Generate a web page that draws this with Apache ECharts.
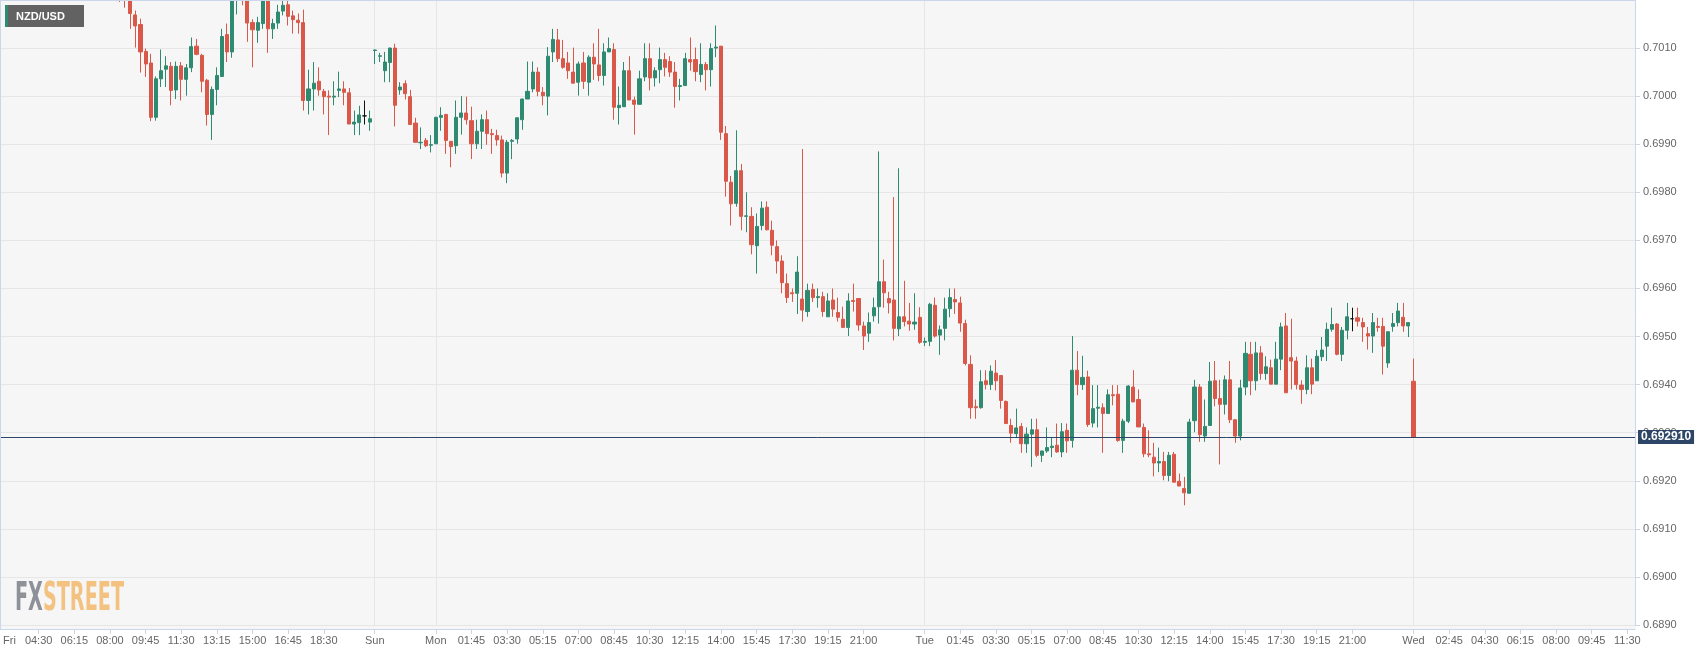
<!DOCTYPE html>
<html>
<head>
<meta charset="utf-8">
<script src="https://cdn.jsdelivr.net/npm/echarts@6/dist/echarts.min.js"></script>
<style>
html,body{margin:0;padding:0;background:#fff;}
#chart{width:1707px;height:655px;}
</style>
</head>
<body>
<div id="chart"></div>
<script>
// ---- DATA ----
const symbolName = 'NZD/USD';

// trading sessions shown on the axis (15-minute bars): [day, first bar, last bar]
const sessions = [
  ['Fri', '02:45', '20:45'],
  ['Sun', '21:00', '23:45'],
  ['Mon', '00:00', '23:45'],
  ['Tue', '00:00', '23:45'],
  ['Wed', '00:00', '10:45']
];

// x-axis tick labels: [bar, label text]
const tickLabels = [
  ['Fri 02:45', 'Fri'], ['Fri 04:30', '04:30'], ['Fri 06:15', '06:15'], ['Fri 08:00', '08:00'],
  ['Fri 09:45', '09:45'], ['Fri 11:30', '11:30'], ['Fri 13:15', '13:15'], ['Fri 15:00', '15:00'],
  ['Fri 16:45', '16:45'], ['Fri 18:30', '18:30'],
  ['Sun 21:00', 'Sun'],
  ['Mon 00:00', 'Mon'], ['Mon 01:45', '01:45'], ['Mon 03:30', '03:30'], ['Mon 05:15', '05:15'],
  ['Mon 07:00', '07:00'], ['Mon 08:45', '08:45'], ['Mon 10:30', '10:30'], ['Mon 12:15', '12:15'],
  ['Mon 14:00', '14:00'], ['Mon 15:45', '15:45'], ['Mon 17:30', '17:30'], ['Mon 19:15', '19:15'],
  ['Mon 21:00', '21:00'],
  ['Tue 00:00', 'Tue'], ['Tue 01:45', '01:45'], ['Tue 03:30', '03:30'], ['Tue 05:15', '05:15'],
  ['Tue 07:00', '07:00'], ['Tue 08:45', '08:45'], ['Tue 10:30', '10:30'], ['Tue 12:15', '12:15'],
  ['Tue 14:00', '14:00'], ['Tue 15:45', '15:45'], ['Tue 17:30', '17:30'], ['Tue 19:15', '19:15'],
  ['Tue 21:00', '21:00'],
  ['Wed 00:00', 'Wed'], ['Wed 01:45', '02:45'], ['Wed 03:30', '04:30'], ['Wed 05:15', '06:15'],
  ['Wed 07:00', '08:00'], ['Wed 08:45', '09:45'], ['Wed 10:30', '11:30']
];

// first bar of the OHLC list below
const firstBar = 'Fri 08:30';

// [open, close, low, high]
const ohlc = [
  [0.70260,0.70230,0.70196,0.70280],[0.70230,0.70210,0.70184,0.70250],[0.70210,0.70172,0.70140,0.70220],
  [0.70169,0.70146,0.70101,0.70178],[0.70149,0.70092,0.70049,0.70161],[0.70093,0.70067,0.70040,0.70099],
  [0.70069,0.69956,0.69948,0.70088],[0.69956,0.70036,0.69949,0.70041],[0.70036,0.70053,0.70019,0.70097],
  [0.70056,0.70063,0.70019,0.70083],[0.70062,0.70012,0.69981,0.70071],[0.70013,0.70062,0.69994,0.70072],
  [0.70063,0.70035,0.69991,0.70071],[0.70035,0.70059,0.70001,0.70067],[0.70059,0.70103,0.70050,0.70122],
  [0.70104,0.70087,0.70085,0.70119],[0.70085,0.70031,0.70008,0.70088],[0.70033,0.69962,0.69939,0.70036],
  [0.69962,0.70014,0.69909,0.70020],[0.70014,0.70043,0.69981,0.70060],[0.70041,0.70124,0.70040,0.70140],
  [0.70128,0.70092,0.70071,0.70151],[0.70092,0.70205,0.70080,0.70215],[0.70215,0.70225,0.70170,0.70240],
  [0.70240,0.70220,0.70189,0.70260],[0.70215,0.70152,0.70113,0.70220],[0.70153,0.70138,0.70060,0.70160],
  [0.70137,0.70153,0.70111,0.70165],[0.70151,0.70205,0.70140,0.70220],[0.70205,0.70140,0.70090,0.70220],
  [0.70140,0.70151,0.70119,0.70161],[0.70152,0.70175,0.70140,0.70190],[0.70177,0.70189,0.70168,0.70200],
  [0.70190,0.70166,0.70147,0.70200],[0.70167,0.70159,0.70130,0.70178],[0.70158,0.70153,0.70130,0.70172],
  [0.70153,0.69991,0.69970,0.70180],[0.69991,0.70015,0.69962,0.70055],[0.70015,0.70027,0.69970,0.70071],
  [0.70031,0.70013,0.70001,0.70060],[0.70010,0.69999,0.69962,0.70015],[0.70000,0.69998,0.69919,0.70012],
  [0.69998,0.70000,0.69981,0.70031],[0.70012,0.70015,0.69998,0.70051],[0.70015,0.70008,0.69981,0.70031],
  [0.70007,0.69942,0.69942,0.70017],[0.69942,0.69946,0.69919,0.69970],[0.69945,0.69961,0.69919,0.69980],
  [0.69959,0.69959,0.69941,0.69991],[0.69946,0.69953,0.69928,0.69970],
  // Sun
  [0.70095,0.70096,0.70067,0.70097],[0.70083,0.70084,0.70071,0.70090],[0.70053,0.70071,0.70029,0.70092],
  [0.70070,0.70100,0.70029,0.70101],[0.70100,0.69981,0.69937,0.70109],[0.70013,0.70019,0.70003,0.70029],
  [0.70026,0.70005,0.69993,0.70033],[0.69999,0.69941,0.69941,0.70013],[0.69944,0.69904,0.69904,0.69955],
  [0.69903,0.69904,0.69890,0.69935],[0.69908,0.69897,0.69894,0.69913],[0.69898,0.69899,0.69883,0.69919],
  // Mon
  [0.69901,0.69956,0.69901,0.69957],[0.69956,0.69960,0.69928,0.69977],[0.69962,0.69908,0.69880,0.69963],
  [0.69906,0.69895,0.69852,0.69906],[0.69897,0.69956,0.69880,0.69991],[0.69956,0.69965,0.69920,0.70000],
  [0.69965,0.69951,0.69941,0.69999],[0.69949,0.69901,0.69869,0.69978],[0.69901,0.69927,0.69890,0.69951],
  [0.69927,0.69951,0.69890,0.69962],[0.69951,0.69922,0.69899,0.69970],[0.69922,0.69920,0.69880,0.69932],
  [0.69918,0.69909,0.69897,0.69930],[0.69909,0.69840,0.69831,0.69918],[0.69840,0.69904,0.69819,0.69909],
  [0.69906,0.69908,0.69869,0.69911],[0.69911,0.69955,0.69901,0.69956],[0.69951,0.69994,0.69930,0.69995],
  [0.69994,0.70010,0.69994,0.70072],[0.70015,0.70050,0.70008,0.70072],[0.70050,0.70010,0.70000,0.70060],
  [0.70008,0.70001,0.69981,0.70019],[0.70000,0.70083,0.69960,0.70102],[0.70092,0.70118,0.70071,0.70140],
  [0.70117,0.70078,0.70071,0.70140],[0.70078,0.70060,0.70057,0.70117],[0.70069,0.70053,0.70036,0.70092],
  [0.70050,0.70027,0.70027,0.70101],[0.70029,0.70067,0.70001,0.70072],[0.70069,0.70031,0.70015,0.70092],
  [0.70029,0.70081,0.70001,0.70085],[0.70081,0.70067,0.70034,0.70110],[0.70065,0.70043,0.70031,0.70140],
  [0.70043,0.70092,0.70022,0.70110],[0.70092,0.70099,0.70092,0.70122],[0.70097,0.69977,0.69951,0.70110],
  [0.69976,0.69981,0.69941,0.70020],[0.69978,0.70053,0.69978,0.70071],[0.70053,0.69992,0.69992,0.70083],
  [0.69992,0.69983,0.69920,0.69999],[0.69983,0.70036,0.69983,0.70053],[0.70040,0.70078,0.70031,0.70110],
  [0.70078,0.70038,0.70012,0.70110],[0.70038,0.70053,0.70020,0.70060],[0.70055,0.70076,0.70027,0.70101],
  [0.70076,0.70060,0.70041,0.70090],[0.70072,0.70050,0.70040,0.70083],[0.70050,0.70020,0.69976,0.70071],
  [0.70020,0.70022,0.69991,0.70036],[0.70022,0.70078,0.70022,0.70090],[0.70076,0.70071,0.70053,0.70122],
  [0.70076,0.70051,0.70031,0.70101],[0.70045,0.70066,0.70029,0.70110],[0.70066,0.70055,0.70012,0.70071],
  [0.70055,0.70099,0.70020,0.70110],[0.70100,0.70102,0.70081,0.70147],[0.70104,0.69925,0.69909,0.70104],
  [0.69922,0.69823,0.69791,0.69938],[0.69821,0.69776,0.69731,0.69834],[0.69777,0.69845,0.69770,0.69929],
  [0.69845,0.69750,0.69721,0.69859],[0.69750,0.69751,0.69717,0.69800],[0.69750,0.69691,0.69671,0.69769],
  [0.69689,0.69729,0.69631,0.69756],[0.69731,0.69767,0.69721,0.69781],[0.69769,0.69722,0.69721,0.69781],
  [0.69721,0.69690,0.69669,0.69741],[0.69687,0.69657,0.69631,0.69700],[0.69657,0.69612,0.69590,0.69669],
  [0.69610,0.69581,0.69570,0.69631],[0.69591,0.69589,0.69572,0.69600],[0.69590,0.69634,0.69547,0.69667],
  [0.69578,0.69555,0.69531,0.69890],[0.69552,0.69596,0.69541,0.69610],[0.69598,0.69581,0.69572,0.69610],
  [0.69581,0.69583,0.69560,0.69600],[0.69583,0.69552,0.69541,0.69593],[0.69541,0.69574,0.69541,0.69590],
  [0.69576,0.69557,0.69541,0.69600],[0.69550,0.69540,0.69531,0.69581],[0.69536,0.69519,0.69519,0.69562],
  [0.69519,0.69574,0.69501,0.69590],[0.69575,0.69573,0.69552,0.69610],[0.69579,0.69524,0.69512,0.69579],
  [0.69522,0.69501,0.69472,0.69531],[0.69507,0.69529,0.69489,0.69550],[0.69543,0.69560,0.69531,0.69581],
  [0.69562,0.69614,0.69527,0.69885],[0.69614,0.69591,0.69560,0.69660],[0.69579,0.69570,0.69548,0.69593],
  [0.69576,0.69517,0.69492,0.69790],[0.69516,0.69541,0.69501,0.69850],[0.69541,0.69531,0.69521,0.69616],
  [0.69532,0.69526,0.69512,0.69570],[0.69526,0.69530,0.69514,0.69590],[0.69540,0.69488,0.69485,0.69561],
  // Tue
  [0.69488,0.69490,0.69480,0.69498],[0.69490,0.69567,0.69480,0.69570],[0.69565,0.69501,0.69498,0.69581],
  [0.69503,0.69514,0.69462,0.69523],[0.69517,0.69557,0.69492,0.69581],[0.69558,0.69581,0.69540,0.69600],
  [0.69577,0.69572,0.69547,0.69600],[0.69570,0.69528,0.69510,0.69583],[0.69527,0.69444,0.69440,0.69535],
  [0.69442,0.69352,0.69329,0.69461],[0.69354,0.69352,0.69329,0.69369],[0.69352,0.69406,0.69350,0.69430],
  [0.69408,0.69400,0.69390,0.69430],[0.69400,0.69428,0.69389,0.69440],[0.69424,0.69408,0.69388,0.69451],
  [0.69419,0.69367,0.69350,0.69419],[0.69365,0.69319,0.69319,0.69367],[0.69315,0.69299,0.69279,0.69329],
  [0.69298,0.69310,0.69291,0.69350],[0.69313,0.69277,0.69258,0.69320],[0.69277,0.69297,0.69258,0.69311],
  [0.69297,0.69306,0.69229,0.69329],[0.69306,0.69253,0.69249,0.69329],[0.69253,0.69262,0.69239,0.69262],
  [0.69262,0.69269,0.69258,0.69311],[0.69269,0.69272,0.69249,0.69290],[0.69274,0.69260,0.69258,0.69319],
  [0.69260,0.69302,0.69249,0.69320],[0.69305,0.69283,0.69258,0.69319],[0.69284,0.69430,0.69269,0.69501],
  [0.69430,0.69400,0.69378,0.69470],[0.69400,0.69415,0.69389,0.69460],[0.69416,0.69317,0.69312,0.69429],
  [0.69320,0.69350,0.69311,0.69399],[0.69351,0.69353,0.69311,0.69399],[0.69352,0.69340,0.69258,0.69361],
  [0.69340,0.69379,0.69340,0.69390],[0.69379,0.69377,0.69357,0.69399],[0.69380,0.69284,0.69281,0.69399],
  [0.69284,0.69324,0.69258,0.69329],[0.69324,0.69397,0.69320,0.69399],[0.69395,0.69364,0.69364,0.69430],
  [0.69369,0.69312,0.69312,0.69390],[0.69311,0.69256,0.69249,0.69319],[0.69256,0.69254,0.69249,0.69305],
  [0.69249,0.69237,0.69209,0.69279],[0.69237,0.69240,0.69218,0.69269],[0.69240,0.69211,0.69201,0.69260],
  [0.69211,0.69253,0.69199,0.69260],[0.69255,0.69197,0.69197,0.69260],[0.69199,0.69189,0.69189,0.69215],
  [0.69184,0.69175,0.69149,0.69208],[0.69174,0.69322,0.69174,0.69329],[0.69325,0.69395,0.69301,0.69410],
  [0.69395,0.69296,0.69281,0.69401],[0.69293,0.69313,0.69281,0.69369],[0.69315,0.69407,0.69315,0.69447],
  [0.69408,0.69371,0.69355,0.69449],[0.69371,0.69359,0.69234,0.69410],[0.69359,0.69410,0.69338,0.69419],
  [0.69410,0.69327,0.69320,0.69449],[0.69327,0.69293,0.69279,0.69327],[0.69293,0.69393,0.69284,0.69410],
  [0.69395,0.69465,0.69378,0.69489],[0.69463,0.69408,0.69378,0.69489],[0.69408,0.69466,0.69388,0.69489],
  [0.69466,0.69423,0.69410,0.69480],[0.69423,0.69437,0.69410,0.69459],[0.69435,0.69401,0.69401,0.69452],
  [0.69401,0.69453,0.69401,0.69489],[0.69453,0.69520,0.69430,0.69529],[0.69522,0.69383,0.69383,0.69549],
  [0.69456,0.69449,0.69390,0.69537],[0.69449,0.69400,0.69390,0.69458],[0.69399,0.69390,0.69360,0.69409],
  [0.69390,0.69435,0.69380,0.69461],[0.69435,0.69401,0.69380,0.69454],[0.69408,0.69459,0.69408,0.69472],
  [0.69458,0.69472,0.69449,0.69499],[0.69480,0.69515,0.69449,0.69529],[0.69515,0.69525,0.69510,0.69560],
  [0.69526,0.69463,0.69461,0.69528],[0.69463,0.69513,0.69449,0.69520],[0.69513,0.69541,0.69494,0.69570],
  [0.69537,0.69537,0.69511,0.69560],[0.69539,0.69532,0.69521,0.69560],[0.69529,0.69520,0.69489,0.69539],
  [0.69506,0.69501,0.69473,0.69520],[0.69501,0.69529,0.69466,0.69549],[0.69521,0.69519,0.69510,0.69539],
  [0.69521,0.69480,0.69421,0.69539],[0.69445,0.69510,0.69435,0.69510],[0.69521,0.69527,0.69510,0.69549],
  [0.69529,0.69553,0.69521,0.69570],[0.69540,0.69522,0.69510,0.69570],[0.69522,0.69529,0.69499,0.69529],
  // Wed
  [0.69407,0.69291,0.69291,0.69454]
];

// ---- BUILD ----
function pad(n) { return (n < 10 ? '0' : '') + n; }
function toMin(s) { const p = s.split(':'); return (+p[0]) * 60 + (+p[1]); }
const categories = [];
const dayStarts = [];
sessions.forEach(([day, a, b], si) => {
  for (let m = toMin(a); m <= toMin(b); m += 15) {
    const key = day + ' ' + pad(Math.floor(m / 60)) + ':' + pad(m % 60);
    if (m === toMin(a) && si > 0) dayStarts.push(key);
    categories.push(key);
  }
});
const labelMap = new Map(tickLabels);
const startIdx = categories.indexOf(firstBar);
const seriesData = categories.map((c, i) => {
  const k = i - startIdx;
  return (k >= 0 && k < ohlc.length) ? ohlc[k] : '-';
});
const lastClose = ohlc[ohlc.length - 1][1];
const emptyLine = categories.map(() => '-');

const UP = '#2e8a70', DOWN = '#d9584a', PRICE = '#2d4566';
const FONT = '"Liberation Sans", Arial, sans-serif';

// logo width fit
const mctx = document.createElement('canvas').getContext('2d');
const logoFont = 'bold 39px "Liberation Sans Narrow", "DejaVu Sans Condensed", sans-serif';
mctx.font = logoFont;
const logoScale = 109 / mctx.measureText('FXSTREET').width;

const chart = echarts.init(document.getElementById('chart'), null, { renderer: 'canvas' });
chart.setOption({
  animation: false,
  backgroundColor: '#ffffff',
  grid: { left: -2, top: 0, width: 1637, height: 625, containLabel: false },
  xAxis: {
    type: 'category',
    data: categories,
    boundaryGap: true,
    offset: 4,
    axisLine: { show: true, lineStyle: { color: '#ccd6eb', width: 1 } },
    axisTick: {
      show: true, alignWithLabel: true, length: 5,
      interval: (i, v) => labelMap.has(v) && i !== 0,
      lineStyle: { color: '#ccd6eb' }
    },
    axisLabel: {
      interval: (i, v) => labelMap.has(v),
      formatter: v => labelMap.get(v) || '',
      color: '#666666', fontSize: 11, fontFamily: FONT, margin: 6,
      alignMinLabel: 'left'
    },
    splitLine: { show: false }
  },
  yAxis: {
    type: 'value',
    position: 'right',
    min: 0.6890, max: 0.7020, interval: 0.001,
    axisLine: { show: true, lineStyle: { color: '#ccd6eb' } },
    axisTick: { show: true, length: 5, lineStyle: { color: '#ccd6eb' } },
    axisLabel: {
      formatter: v => v.toFixed(4), color: '#666666', fontSize: 11, fontFamily: FONT,
      margin: 8, showMaxLabel: false
    },
    splitLine: { show: true, lineStyle: { color: '#e6e6e6', width: 1 } }
  },
  series: [
    {
      type: 'line',
      data: emptyLine,
      silent: true,
      symbol: 'none',
      markLine: {
        z: 1,
        silent: true,
        symbol: 'none',
        animation: false,
        label: { show: false },
        lineStyle: { color: '#e6e6e6', type: 'solid', width: 1 },
        data: dayStarts.map(d => ({ xAxis: d }))
      }
    },
    {
      type: 'candlestick',
      name: symbolName,
      data: seriesData,
      barWidth: 3.6,
      clip: true,
      itemStyle: {
        color: UP, color0: DOWN,
        borderColor: UP, borderColor0: DOWN,
        borderColorDoji: '#111111',
        borderWidth: 1
      }
    },
    {
      type: 'line',
      data: emptyLine,
      silent: true,
      symbol: 'none',
      markLine: {
        z: 6,
        precision: 6,
        silent: true,
        symbol: 'none',
        animation: false,
        lineStyle: { color: PRICE, type: 'solid', width: 1 },
        label: {
          show: true, position: 'end', distance: 3,
          formatter: () => lastClose.toFixed(6),
          backgroundColor: PRICE, color: '#ffffff',
          fontWeight: 'bold', fontSize: 12, fontFamily: FONT,
          padding: [1, 3, 1, 3]
        },
        data: [{ yAxis: lastClose }]
      }
    }
  ],
  graphic: {
    elements: [
      { type: 'rect', z: -100, silent: true,
        shape: { x: 0, y: 0, width: 1636, height: 629 },
        style: { fill: '#f6f6f6' } },
      { type: 'line', z: 50, silent: true,
        shape: { x1: 0, y1: 0.5, x2: 1636, y2: 0.5 },
        style: { stroke: '#ccd6eb', lineWidth: 1 } },
      { type: 'line', z: 50, silent: true,
        shape: { x1: 0.5, y1: 0, x2: 0.5, y2: 629 },
        style: { stroke: '#ccd6eb', lineWidth: 1 } },
      { type: 'rect', z: 60, silent: true,
        shape: { x: 5, y: 5, width: 79, height: 22 },
        style: { fill: '#626262' } },
      { type: 'rect', z: 61, silent: true,
        shape: { x: 5, y: 5, width: 3, height: 22 },
        style: { fill: UP } },
      { type: 'text', z: 62, silent: true, x: 16, y: 16.5,
        style: { text: symbolName, fill: '#ffffff', font: 'bold 11px ' + FONT,
                 verticalAlign: 'middle', align: 'left' } },
      { type: 'text', z: -50, silent: true, x: 15, y: 600, scaleX: logoScale,
        style: {
          text: '{a|FX}{b|STREET}',
          font: logoFont,
          verticalAlign: 'middle', align: 'left',
          rich: {
            a: { fill: '#8f9199', font: logoFont },
            b: { fill: '#f3c281', font: logoFont }
          }
        } }
    ]
  }
});
</script>
</body>
</html>
